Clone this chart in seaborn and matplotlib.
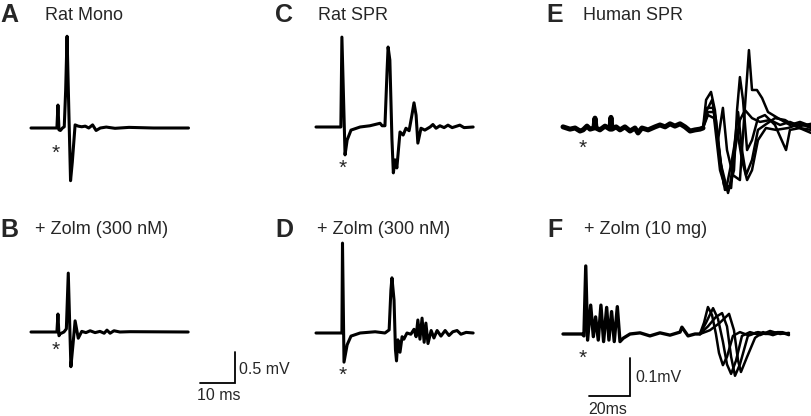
import matplotlib

matplotlib.use("Agg")
import matplotlib.pyplot as plt
import pandas as pd
import seaborn as sns

# ---------------------------------------------------------------------------
# Traces (time in ms, amplitude in mV)
# ---------------------------------------------------------------------------

# A: rat monosynaptic reflex
rat_mono_t = [0, 7.4, 7.7, 8.0, 8.4, 9.0, 9.5, 9.9, 10.3, 10.8, 11.3, 11.8, 12.6, 13.5,
              14.5, 15.5, 16.5, 17.6, 18.6, 19.8, 21.5, 24, 28, 35, 45]
rat_mono_v = [0, 0, 0.37, -0.03, -0.04, 0.0, 0.02, 0.6, 1.48, 0.3, -0.85, -0.55, 0.05, 0.03,
              0.02, 0.03, 0.0, 0.05, -0.04, 0.0, 0.015, -0.005, 0.01, 0.0, 0.0]

# B: rat mono + zolmitriptan 300 nM
rat_mono_zolm_t = [0, 7.4, 7.7, 8.0, 8.3, 9.4, 10.1, 10.65, 11.4, 12.0, 12.6, 13.5, 14.5, 15.7,
                   16.9, 18.3, 19.7, 20.9, 21.7, 22.6, 23.7, 25.4, 28.3, 44.9]
rat_mono_zolm_v = [0, 0, 0.29, -0.06, -0.03, 0.0, 0.05, 0.95, -0.56, -0.2, 0.18, -0.1, 0.01, -0.01,
                   0.02, -0.01, 0.01, -0.02, 0.03, -0.02, 0.02, 0.0, 0.005, 0.0]

# C: rat SPR
rat_spr_t = [0, 7.1, 7.4, 8.3, 8.9, 10.0, 12.6, 15.4, 18.3, 18.9, 19.7, 20.3, 20.6, 21.1, 21.7,
             22.1, 22.6, 23.1, 24.0, 24.9, 25.7, 26.6, 27.4, 28.0, 28.6, 29.1, 30.0, 31.1,
             32.6, 33.4, 34.3, 35.4, 36.6, 37.7, 38.9, 41.1, 42.3, 44.9]
rat_spr_v = [0, 0, 1.45, -0.45, -0.21, -0.05, 0, 0.02, 0.06, 0.02, 0.02, 0.9, 1.29, 1.08, -0.2,
             -0.74, -0.53, -0.66, -0.08, -0.13, -0.02, -0.06, 0.19, 0.39, 0.19, -0.26, -0.02, -0.05,
             0.0, 0.04, -0.02, 0.02, -0.01, 0.03, -0.01, 0.03, -0.01, 0.0]

# D: rat SPR + zolmitriptan 300 nM
rat_spr_zolm_t = [0, 7.4, 7.57, 8.0, 8.9, 10.0, 12.6, 16.9, 19.7, 20.9, 21.4, 21.7, 22.3, 22.7,
                  23.0, 23.4, 24.0, 24.6, 25.1, 26.0, 27.1, 28.0, 28.6, 29.1, 29.7, 30.3, 30.9,
                  31.4, 32.0, 32.9, 33.7, 34.6, 35.7, 36.9, 38.0, 39.1, 40.3, 41.4, 42.9, 44.9]
rat_spr_zolm_v = [0, 0, 1.45, -0.47, -0.19, -0.05, 0, 0.02, 0, 0.05, 0.69, 0.89, 0.53, -0.27,
                  -0.45, -0.11, -0.31, -0.06, -0.1, 0, -0.02, 0.06, -0.06, 0.21, -0.1, 0.24, -0.15,
                  0.16, -0.17, 0.04, -0.08, 0.04, -0.05, 0.04, -0.04, 0.02, 0.04, -0.02, 0.01, 0]

# E: human SPR, pre-response baseline and overlaid sweeps
human_base_t = [0, 3.4, 5.9, 8.3, 9.8, 11.7, 13.2, 15.1, 15.6, 16.1, 18.0, 20.5, 22.9, 23.4, 23.9,
                25.9, 27.8, 30.2, 32.7, 35.1, 36.6, 38.5, 41.5, 44.9, 47.3, 49.8, 52.2, 54.6,
                57.1, 59.5, 62.0, 64.4, 66.8, 68.3]
human_base_v = [0.003, -0.003, 0.0, -0.008, -0.005, 0.005, -0.003, 0.0, 0.026, 0.0, -0.005, 0.005,
                -0.003, 0.028, -0.003, 0.003, -0.005, 0.003, -0.008, 0.0, -0.013, 0.0, -0.005,
                0.003, 0.008, 0.003, 0.011, 0.005, 0.011, 0.003, -0.008, -0.005, -0.003, 0]
human_sweeps_t = [
    [68.3, 69.8, 72.2, 74.1, 76.6, 79.0, 81.5, 83.9, 86.3, 88.8, 92.2, 96.1, 101.0, 105.9,
     110.7, 115.6, 121.0],
    [68.3, 70.2, 72.7, 74.6, 77.1, 80.5, 83.4, 84.9, 86.3, 87.8, 89.8, 92.2, 95.1, 98.5, 103.4,
     108.8, 110.7, 115.6, 121.0],
    [68.3, 70.2, 73.2, 75.6, 78.0, 80.0, 82.9, 86.3, 88.3, 90.7, 92.2, 94.6, 97.1, 100.0, 104.9,
     110.7, 115.6, 121.0],
    [68.3, 70.7, 73.7, 76.1, 78.5, 82.0, 83.9, 85.4, 87.3, 89.3, 92.2, 95.1, 98.5, 103.4, 108.3,
     113.2, 121.0],
    [68.3, 70.7, 73.7, 76.6, 79.5, 82.4, 84.9, 87.3, 89.8, 92.2, 95.1, 99.0, 103.9, 109.8, 115.6,
     121.0],
]
human_sweeps_v = [
    [0, 0.074, 0.095, 0.047, -0.084, -0.163, -0.150, -0.058, 0.021, 0.047, 0.026, 0.016, 0.021,
     0.008, 0.016, 0.005, 0.011],
    [0, 0.047, 0.074, 0.021, -0.097, -0.171, -0.111, 0.047, 0.134, 0.074, -0.058, -0.032, 0.026,
     0.034, 0.008, -0.058, -0.005, 0, -0.005],
    [0, 0.053, 0.053, -0.032, 0.053, -0.058, -0.124, -0.137, 0.021, 0.205, 0.100, 0.100, 0.079,
     0.042, 0.026, 0.008, 0.016, 0.005],
    [0, 0.042, 0.042, -0.058, -0.150, -0.158, -0.032, 0.042, -0.058, -0.124, -0.084, -0.005,
     0.008, 0.026, 0.021, 0.005, -0.013],
    [0, 0.034, 0.026, -0.111, -0.163, -0.084, -0.005, -0.084, -0.137, -0.111, -0.032, 0, -0.005,
     0, 0.011, 0],
]

# F: human SPR + zolmitriptan 10 mg
human_zolm_base_t = [0, 9.3, 10.2, 11.1, 12.0, 13.5, 14.8, 15.9, 17.2, 18.5, 19.8, 21.3, 22.4,
                     23.7, 25.0, 26.5, 27.8, 29.4, 32.7, 37.6, 42.4, 47.3, 52.2, 57.1, 58.0,
                     61.0, 64.4, 66.8]
human_zolm_base_v = [0, 0, -0.005, 0.179, -0.016, 0.076, -0.007, 0.045, -0.016, 0.076, -0.02,
                     0.07, -0.016, 0.059, -0.02, 0.072, -0.02, -0.011, 0, 0.003, -0.005, 0.003,
                     -0.003, 0.005, 0.018, -0.005, 0.0, 0]
human_zolm_sweeps_t = [
    [66.8, 68.8, 70.7, 72.7, 74.6, 76.1, 78.0, 80.0, 82.9, 86.3, 90.2, 95.1, 100.0, 105.9, 110.2],
    [66.8, 69.8, 73.2, 75.6, 78.0, 80.0, 82.0, 84.4, 87.3, 91.2, 96.1, 101.0, 105.9, 110.2],
    [66.8, 70.7, 74.6, 77.6, 80.0, 82.0, 83.9, 86.3, 90.2, 94.1, 99.0, 104.9, 110.2],
    [66.8, 71.7, 76.6, 81.0, 83.4, 85.4, 86.8, 89.8, 93.7, 97.6, 102.4, 106.8, 110.2],
]
human_zolm_sweeps_v = [
    [0, 0.03, 0.071, 0.05, 0.0, -0.05, -0.082, -0.06, -0.005, 0.005, -0.003, 0.005, 0.0, 0.005,
     -0.003],
    [0, 0.03, 0.068, 0.04, -0.02, -0.08, -0.105, -0.07, -0.005, 0.005, -0.003, 0.008, 0.0, 0.003],
    [0, 0.02, 0.045, 0.055, 0.02, -0.06, -0.11, -0.08, -0.005, 0.003, 0.0, 0.005, 0.0],
    [0, 0.01, 0.03, 0.053, 0.01, -0.07, -0.10, -0.06, -0.01, 0.005, -0.003, 0.005, 0.0],
]

panel_letters = ["A", "B", "C", "D", "E", "F"]
panel_titles = ["Rat Mono", "+ Zolm (300 nM)", "Rat SPR", "+ Zolm (300 nM)",
                "Human SPR", "+ Zolm (10 mg)"]
rat_scale = (10, 0.5)      # ms, mV
human_scale = (20, 0.1)    # ms, mV
rat_scale_labels = ("10 ms", "0.5 mV")
human_scale_labels = ("20ms", "0.1mV")

# ---------------------------------------------------------------------------
# Figure
# ---------------------------------------------------------------------------

sns.set_style("white")
plt.rcParams["font.family"] = ["Liberation Sans", "DejaVu Sans"]

W, H = 812, 416
fig = plt.figure(figsize=(W / 100, H / 100), dpi=100)

RAT_PX = (3.5, 62.0)      # px per ms, px per mV
HUMAN_PX = (2.05, 380.0)


def make_panel(x_start, y_base, px, box):
    """Axes placed in pixel box (left, top, right, bottom) with ms / mV data units."""
    left, top, right, bottom = box
    ax = fig.add_axes([left / W, 1 - bottom / H, (right - left) / W, (bottom - top) / H])
    ax.set_xlim((left - x_start) / px[0], (right - x_start) / px[0])
    ax.set_ylim((y_base - bottom) / px[1], (y_base - top) / px[1])
    ax.axis("off")
    return ax


def draw(ax, t, v, lw=2.2):
    df = pd.DataFrame({"t": t, "v": v})
    sns.lineplot(data=df, x="t", y="v", sort=False, estimator=None, color="black",
                 lw=lw, ax=ax, legend=False)


def draw_sweeps(ax, ts, vs, lw=1.8):
    df = pd.concat(
        [pd.DataFrame({"t": t, "v": v, "sweep": i}) for i, (t, v) in enumerate(zip(ts, vs))],
        ignore_index=True,
    )
    sns.lineplot(data=df, x="t", y="v", units="sweep", sort=False, estimator=None,
                 color="black", lw=lw, ax=ax, legend=False)


def scale_bar(ax, t0, v0, size):
    ax.plot([t0, t0 + size[0], t0 + size[0]], [v0, v0, v0 + size[1]],
            color="black", lw=1.3, solid_joinstyle="miter")


ax_a = make_panel(31, 128, RAT_PX, (0, 25, 270, 215))
ax_b = make_panel(31, 332, RAT_PX, (0, 240, 270, 416))
ax_c = make_panel(316, 127, RAT_PX, (280, 25, 540, 215))
ax_d = make_panel(316, 333, RAT_PX, (280, 240, 540, 416))
ax_e = make_panel(563, 128, HUMAN_PX, (545, 25, 812, 215))
ax_f = make_panel(563, 334, HUMAN_PX, (545, 240, 812, 416))

draw(ax_a, rat_mono_t, rat_mono_v)
draw(ax_b, rat_mono_zolm_t, rat_mono_zolm_v)
draw(ax_c, rat_spr_t, rat_spr_v)
draw(ax_d, rat_spr_zolm_t, rat_spr_zolm_v)

draw(ax_e, human_base_t, human_base_v, lw=3.6)
draw_sweeps(ax_e, human_sweeps_t, human_sweeps_v)
draw(ax_f, human_zolm_base_t, human_zolm_base_v, lw=2.4)
draw_sweeps(ax_f, human_zolm_sweeps_t, human_zolm_sweeps_v)

scale_bar(ax_b, 48.3, -0.82, rat_scale)
scale_bar(ax_f, 12.7, -0.163, human_scale)


def ptext(x, y, s, **kw):
    fig.text(x / W, 1 - y / H, s, va="center", **kw)


letter_pos = [(0, 15), (0, 230), (275, 15), (275, 230), (546, 15), (547, 230)]
title_pos = [(45, 15), (35, 230), (318, 15), (317, 230), (583, 15), (584, 230)]
for (lx, ly), (tx, ty), letter, title in zip(letter_pos, title_pos, panel_letters, panel_titles):
    ptext(lx, ly, letter, fontsize=18, fontweight="bold")
    ptext(tx, ty, title, fontsize=13)

for sx, sy in [(56, 153), (56, 350), (343, 168), (343, 375), (583, 148), (583, 358)]:
    ptext(sx, sy, "*", fontsize=15, ha="center")

ptext(239, 369, rat_scale_labels[1], fontsize=11.5)
ptext(197, 396, rat_scale_labels[0], fontsize=11.5)
ptext(635, 377, human_scale_labels[1], fontsize=11.5)
ptext(588, 410, human_scale_labels[0], fontsize=11.5)

fig.savefig("out.png", dpi=100)
